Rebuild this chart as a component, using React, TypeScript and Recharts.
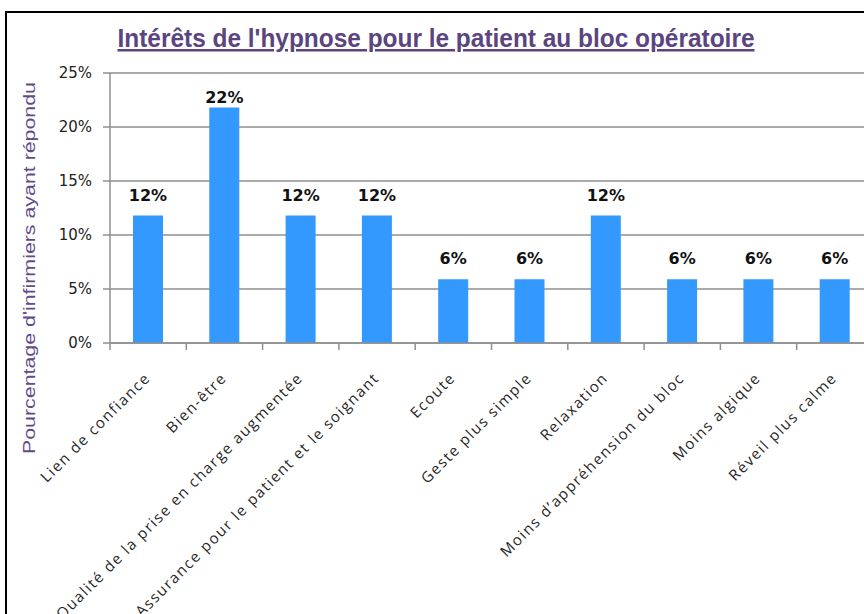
import { BarChart, Bar, XAxis, YAxis, CartesianGrid, LabelList } from 'recharts';

// Intérêts de l'hypnose — share of nurses citing each benefit (%)
const categories = [
  'Lien de confiance',
  'Bien-être',
  'Qualité de la prise en charge augmentée',
  'Assurance pour le patient et le soignant',
  'Ecoute',
  'Geste plus simple',
  'Relaxation',
  'Moins d’appréhension du bloc',
  'Moins algique',
  'Réveil plus calme',
];
const shares = [11.8, 21.8, 11.8, 11.8, 5.9, 5.9, 11.8, 5.9, 5.9, 5.9];
const yTicks = [0, 5, 10, 15, 20, 25];
const boundaryTicks = [0, 1, 2, 3, 4, 5, 6, 7, 8, 9, 10];

const data = categories.map((name, i) => ({ name, value: shares[i], idx: i + 0.5 }));

const PLOT_TOP = 73;
const GRID = '#8f8f8f';

function CategoryTick({ x, y, payload }: any) {
  return (
    <text
      transform={`translate(${x + 3},${y + 29}) rotate(-45)`}
      textAnchor="end"
      fontFamily="'Open Sans', sans-serif"
      fontSize={15}
      letterSpacing={1.5}
      fill="#262626"
    >
      {payload.value}
    </text>
  );
}

function ValueLabel({ x, y, width, value }: any) {
  const base = Math.max(y - 15, PLOT_TOP + 30);
  return (
    <text
      x={x + width / 2}
      y={base}
      textAnchor="middle"
      fontFamily="'DejaVu Sans', sans-serif"
      fontWeight="bold"
      fontSize={16}
      fill="#111"
    >
      {Math.round(value)}%
    </text>
  );
}

// boundary axis: tick marks only, no labels
const NoLabel = () => <g />;

export default function App() {
  return (
    <div style={{ position: 'absolute', left: 0, top: 0, width: 864, height: 614, overflow: 'hidden', background: '#fff' }}>
      <div style={{ position: 'absolute', left: 5, top: 11, width: 900, height: 700, border: '2px solid #000' }} />
      <div style={{ position: 'absolute', left: 0, top: 0 }}>
        <BarChart width={920} height={620} data={data} margin={{ top: PLOT_TOP, right: 47, left: 70, bottom: 0 }}>
          <CartesianGrid vertical={false} stroke={GRID} strokeWidth={1.5} />
          <XAxis
            xAxisId="bounds"
            type="number"
            dataKey="idx"
            domain={[0, 10]}
            ticks={boundaryTicks}
            height={7}
            tick={NoLabel}
            tickSize={7}
            tickMargin={0}
            stroke={GRID}
            strokeWidth={1.5}
            allowDataOverflow
          />
          <XAxis
            xAxisId="cat"
            dataKey="name"
            height={270}
            interval={0}
            axisLine={false}
            tickLine={false}
            tickSize={0}
            tickMargin={0}
            tick={<CategoryTick />}
          />
          <YAxis
            domain={[0, 25]}
            ticks={yTicks}
            width={40}
            tickSize={7}
            tickMargin={11}
            stroke={GRID}
            strokeWidth={1.5}
            tickFormatter={(v: number) => `${v}%`}
            tick={{ fontFamily: "'DejaVu Sans', sans-serif", fontSize: 15, fill: '#222' }}
          />
          <Bar xAxisId="cat" dataKey="value" fill="#3399ff" barSize={30} isAnimationActive={false}>
            <LabelList dataKey="value" content={<ValueLabel />} />
          </Bar>
        </BarChart>
      </div>
      <svg width={864} height={614} style={{ position: 'absolute', left: 0, top: 0, pointerEvents: 'none' }}>
        <text
          x={436}
          y={47}
          textAnchor="middle"
          fontFamily="'Liberation Sans', Arial, sans-serif"
          fontWeight="bold"
          fontSize={25}
          textLength={637}
          lengthAdjust="spacingAndGlyphs"
          textDecoration="underline"
          fill="#5a4580"
        >
          Intérêts de l'hypnose  pour le patient au bloc opératoire
        </text>
        <text
          transform="translate(35,268) rotate(-90)"
          textAnchor="middle"
          fontFamily="'Liberation Sans', Arial, sans-serif"
          fontSize={16}
          textLength={372}
          lengthAdjust="spacingAndGlyphs"
          fill="#5f4b8b"
        >
          Pourcentage d'infirmiers ayant répondu
        </text>
      </svg>
    </div>
  );
}
